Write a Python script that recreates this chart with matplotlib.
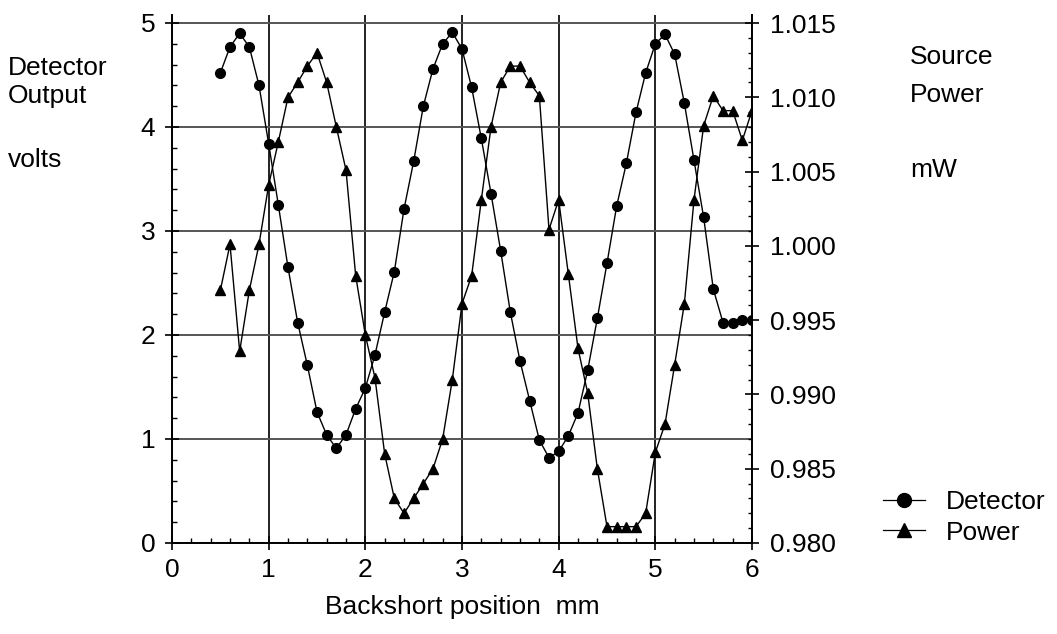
import matplotlib
matplotlib.use("Agg")
import matplotlib.pyplot as plt
from matplotlib.ticker import MultipleLocator, FixedLocator
from matplotlib.lines import Line2D

plt.rcParams['font.family'] = ['Liberation Sans', 'DejaVu Sans']

# ---------------- data ----------------
position_mm = [0.5, 0.6, 0.7, 0.8, 0.9, 1.0, 1.1, 1.2, 1.3, 1.4, 1.5, 1.6, 1.7, 1.8,
               1.9, 2.0, 2.1, 2.2, 2.3, 2.4, 2.5, 2.6, 2.7, 2.8, 2.9, 3.0, 3.1, 3.2,
               3.3, 3.4, 3.5, 3.6, 3.7, 3.8, 3.9, 4.0, 4.1, 4.2, 4.3, 4.4, 4.5, 4.6,
               4.7, 4.8, 4.9, 5.0, 5.1, 5.2, 5.3, 5.4, 5.5, 5.6, 5.7, 5.8, 5.9, 6.0]

detector_v = [4.52, 4.77, 4.90, 4.77, 4.40, 3.84, 3.25, 2.65, 2.12, 1.71, 1.26, 1.04,
              0.91, 1.04, 1.29, 1.49, 1.81, 2.22, 2.61, 3.21, 3.67, 4.20, 4.56, 4.80,
              4.91, 4.75, 4.38, 3.89, 3.36, 2.81, 2.22, 1.75, 1.37, 0.99, 0.82, 0.88,
              1.03, 1.25, 1.66, 2.16, 2.69, 3.24, 3.65, 4.14, 4.52, 4.80, 4.89, 4.70,
              4.23, 3.68, 3.13, 2.44, 2.12, 2.12, 2.14, 2.14]

power_mw = [0.9970, 1.0001, 0.9929, 0.9970, 1.0001, 1.0041, 1.0070, 1.0100, 1.0110,
            1.0121, 1.0130, 1.0110, 1.0080, 1.0051, 0.9980, 0.9940, 0.9911, 0.9860,
            0.9830, 0.9820, 0.9830, 0.9840, 0.9850, 0.9870, 0.9910, 0.9961, 0.9980,
            1.0031, 1.0080, 1.0110, 1.0121, 1.0121, 1.0110, 1.0101, 1.0011, 1.0031,
            0.9981, 0.9931, 0.9901, 0.9850, 0.9811, 0.9811, 0.9811, 0.9811, 0.9820,
            0.9861, 0.9880, 0.9920, 0.9961, 1.0031, 1.0081, 1.0101, 1.0091, 1.0091,
            1.0071, 1.0091]

x_ticks = [0, 1, 2, 3, 4, 5, 6]
left_ticks = [0, 1, 2, 3, 4, 5]
right_ticks = [0.980, 0.985, 0.990, 0.995, 1.000, 1.005, 1.010, 1.015]
right_tick_labels = ["0.980", "0.985", "0.990", "0.995", "1.000", "1.005", "1.010", "1.015"]

# ---------------- figure ----------------
W, H = 1057, 634
fig = plt.figure(figsize=(W / 100, H / 100), dpi=100)
fig.patch.set_facecolor('white')

def fx(px):
    return px / W

def fy(py):
    return 1 - py / H

ax_left, ax_right, ax_bottom, ax_top = 172, 752, 543, 15
ax = fig.add_axes([fx(ax_left), fy(ax_bottom), fx(ax_right - ax_left), (ax_bottom - ax_top) / H])
ax2 = ax.twinx()

FS = 19
ytop = 5 + (23 - ax_top) / ((ax_bottom - 23) / 5.0)

ax.set_xlim(0, 6)
ax.set_ylim(0, ytop)
ax2.set_ylim(0.980, 0.980 + ytop * 0.007)

# grid
ax.set_axisbelow(True)
ax.xaxis.grid(True, which='major', color='#222222', linewidth=1.4)
ax.yaxis.grid(True, which='major', color='#555555', linewidth=1.4)

# ticks
ax.xaxis.set_major_locator(FixedLocator(x_ticks))
ax.xaxis.set_minor_locator(MultipleLocator(0.2))
ax.yaxis.set_major_locator(FixedLocator(left_ticks))
ax.yaxis.set_minor_locator(MultipleLocator(0.2))
ax2.yaxis.set_major_locator(FixedLocator(right_ticks))
ax2.set_yticklabels(right_tick_labels)
ax2.yaxis.set_minor_locator(MultipleLocator(0.001))

ax.tick_params(axis='x', which='major', direction='inout', length=10, width=1.2,
               pad=6, labelsize=FS, colors='black')
ax.tick_params(axis='y', which='major', direction='inout', length=10, width=1.2,
               pad=7, labelsize=FS, colors='black')
ax.tick_params(axis='both', which='minor', direction='in', length=3.5, width=1.0)
ax2.tick_params(axis='y', which='major', direction='inout', length=10, width=1.2,
                pad=8, labelsize=FS, colors='black')
ax2.tick_params(axis='y', which='minor', direction='in', length=3.0, width=1.0)

for a in (ax, ax2):
    a.spines['top'].set_visible(False)
    for s in ('left', 'right', 'bottom'):
        a.spines[s].set_linewidth(1.4)
        a.spines[s].set_color('black')
ax2.spines['left'].set_visible(False)
ax2.spines['bottom'].set_visible(False)
ax.spines['right'].set_visible(False)

# data
ax.plot(position_mm, detector_v, color='black', linewidth=1.0, marker='o',
        markersize=7, markerfacecolor='black', markeredgecolor='black', zorder=3)
ax2.plot(position_mm, power_mw, color='black', linewidth=1.0, marker='^',
         markersize=7, markerfacecolor='black', markeredgecolor='black', zorder=3)

# x label
ax.set_xlabel("Backshort position  mm", fontsize=FS, labelpad=9)

# side labels
fig.text(fx(8), fy(75), "Detector", fontsize=FS, va='baseline', ha='left')
fig.text(fx(8), fy(103), "Output", fontsize=FS, va='baseline', ha='left')
fig.text(fx(8), fy(167), "volts", fontsize=FS, va='baseline', ha='left')
fig.text(fx(910), fy(64), "Source", fontsize=FS, va='baseline', ha='left')
fig.text(fx(910), fy(102), "Power", fontsize=FS, va='baseline', ha='left')
fig.text(fx(910), fy(177), "mW", fontsize=FS, va='baseline', ha='left')

# legend
handles = [
    Line2D([], [], color='black', linewidth=0.9, marker='o', markersize=10,
           markerfacecolor='black'),
    Line2D([], [], color='black', linewidth=0.9, marker='^', markersize=10,
           markerfacecolor='black'),
]
fig.legend(handles, ["Detector", "Power"], loc='upper left',
           bbox_to_anchor=(fx(883), fy(490)), frameon=False, fontsize=FS,
           handlelength=1.6, handletextpad=0.8, labelspacing=0.25,
           borderpad=0, borderaxespad=0)

fig.savefig("out.png", dpi=100, facecolor='white')
